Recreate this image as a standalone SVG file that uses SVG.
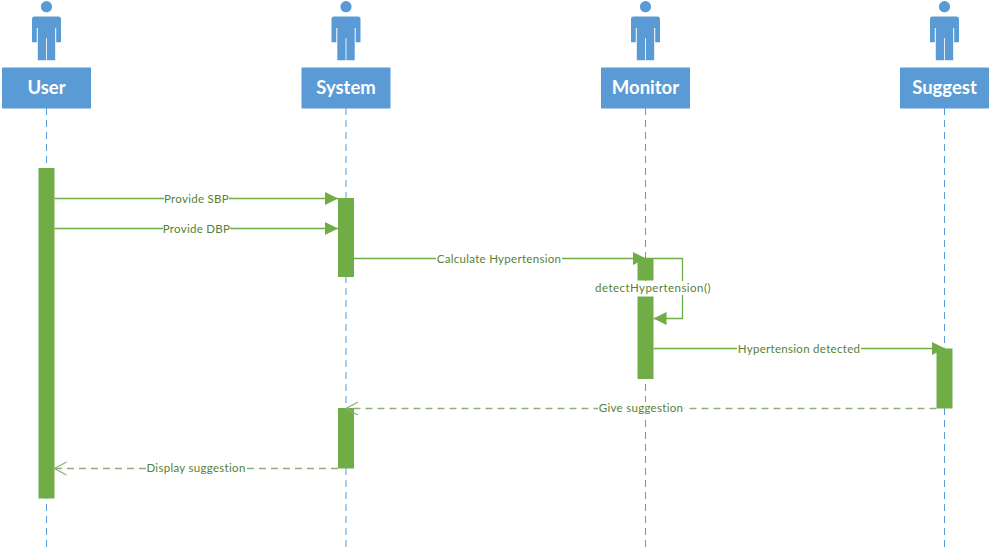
<svg xmlns="http://www.w3.org/2000/svg" width="991" height="547" viewBox="0 0 991 547">
<style>
.head{fill:#5b9bd5}
.title{font:bold 18.500px Lato,"Liberation Sans",sans-serif;fill:#fff;text-anchor:middle}
.life{stroke:#5b9bd5;stroke-width:1;stroke-dasharray:7 5;fill:none}
.bar{fill:#70ad47}
.msg{stroke:#70ad47;stroke-width:1.300;fill:none}
.dash{stroke:#8fae7a;stroke-width:1.300;stroke-dasharray:7 5;fill:none}
.lab{font:11.500px Lato,"Liberation Sans",sans-serif;letter-spacing:.3px;fill:#548235;text-anchor:middle}
.bg{fill:#fff}
</style>
<defs>
<marker id="tri" markerUnits="userSpaceOnUse" markerWidth="14" markerHeight="14" refX="13" refY="6.500" orient="auto"><path d="M0 0L13 6.500L0 13Z" fill="#70ad47"/></marker>
<marker id="open" markerUnits="userSpaceOnUse" markerWidth="15" markerHeight="15" refX="13" refY="7" orient="auto"><path d="M1 0.500L13 7L1 13.500" fill="none" stroke="#8fae7a" stroke-width="1.200"/></marker>
<g id="person"><circle cx="0" cy="6.700" r="5.600"/><path d="M-14.500 19Q-14.500 16.500 -12 16.500H12Q14.500 16.500 14.500 19V42.300H9.700V28H8.700V60.300H0.400V38H-0.400V60.300H-8.700V28H-9.700V42.300H-14.500Z"/></g>
</defs>
<rect width="991" height="547" fill="#fff"/>
<g id="connectors">
<path class="life" d="M46.500 108V547M346 108V547M645.500 108V547M944.500 108V547"/>
</g>
<g id="user"><use href="#person" x="46.500" class="head"/><rect class="head" x="2" y="67.500" width="89" height="41"/><text class="title" x="46.500" y="94">User</text></g>
<g id="system"><use href="#person" x="346" class="head"/><rect class="head" x="301.500" y="67.500" width="89" height="41"/><text class="title" x="346" y="94">System</text></g>
<g id="monitor"><use href="#person" x="645.500" class="head"/><rect class="head" x="601" y="67.500" width="89" height="41"/><text class="title" x="645.500" y="94">Monitor</text></g>
<g id="suggest"><use href="#person" x="944.500" class="head"/><rect class="head" x="900" y="67.500" width="89" height="41"/><text class="title" x="944.500" y="94">Suggest</text></g>
<g id="activations">
<rect class="bar" x="38.500" y="168" width="16" height="330.500"/>
<rect class="bar" x="338" y="198" width="16" height="79"/>
<rect class="bar" x="637.500" y="258.500" width="16" height="22"/>
<rect class="bar" x="637.500" y="296.500" width="16" height="82.500"/>
<rect class="bar" x="936.500" y="348.500" width="16" height="60"/>
<rect class="bar" x="338" y="408" width="16" height="60.500"/>
</g>
<g id="messages">
<path class="msg" marker-end="url(#tri)" d="M54.500 198.500H338"/>
<path class="msg" marker-end="url(#tri)" d="M54.500 228.500H338"/>
<path class="msg" marker-end="url(#tri)" d="M354 258.500H646"/>
<path class="msg" marker-end="url(#tri)" d="M646 258.500H682.500V318.500H653.500"/>
<path class="msg" marker-end="url(#tri)" d="M653.500 348.500H945"/>
<path class="dash" marker-end="url(#open)" d="M936.500 408.500H346"/>
<path class="dash" marker-end="url(#open)" d="M338 468.500H54.500"/>
<rect class="bg" x="164" y="192" width="65" height="13"/><text class="lab" x="196.500" y="202.500">Provide SBP</text>
<rect class="bg" x="163" y="222" width="67" height="13"/><text class="lab" x="196.500" y="232.500">Provide DBP</text>
<rect class="bg" x="436" y="252" width="126" height="13"/><text class="lab" x="499" y="262.500">Calculate Hypertension</text>
<rect class="bg" x="595" y="281" width="116" height="14"/><text class="lab" x="653" y="291.500" style="letter-spacing:.45px">detectHypertension()</text>
<rect class="bg" x="737" y="342" width="124" height="13"/><text class="lab" x="799" y="352.500">Hypertension detected</text>
<rect class="bg" x="598" y="402" width="86" height="13"/><text class="lab" x="641" y="412">Give suggestion</text>
<rect class="bg" x="146" y="462" width="100" height="13"/><text class="lab" x="196" y="472">Display suggestion</text>
</g>
</svg>
